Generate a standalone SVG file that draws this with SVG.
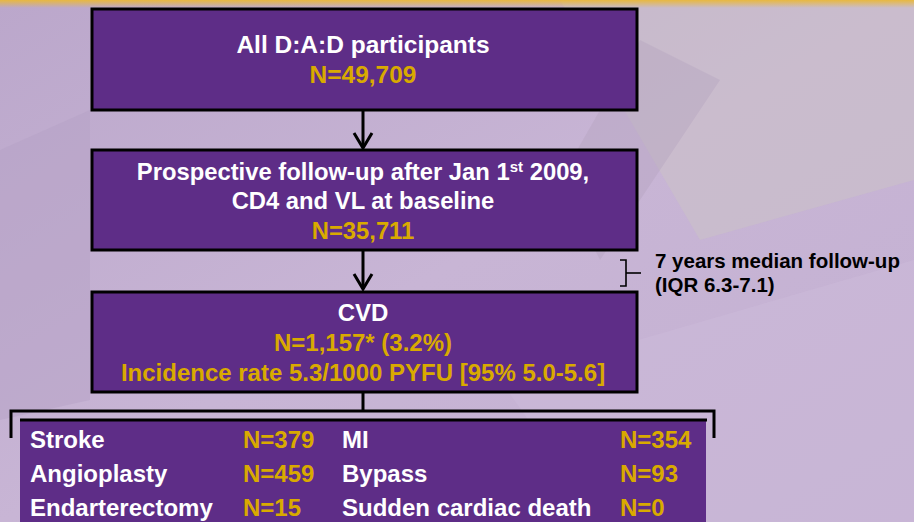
<svg xmlns="http://www.w3.org/2000/svg" width="914" height="522" viewBox="0 0 914 522">
<style>
.box{fill:#5e2d87;stroke:#000;stroke-width:3}
.w{fill:#fff;font-family:"Liberation Sans",Arial,sans-serif;font-weight:bold}
.g{fill:#d9aa00;font-family:"Liberation Sans",Arial,sans-serif;font-weight:bold}
.k{fill:#000;font-family:"Liberation Sans",Arial,sans-serif;font-weight:bold;font-size:20.5px}
.c{text-anchor:middle}
.ln{stroke:#000;stroke-width:3;fill:none}
.br{stroke:#000;stroke-width:1.6;fill:none}
</style>
<defs>
<linearGradient id="bg" x1="0" y1="0" x2="1" y2="1">
<stop offset="0" stop-color="#bba7cb"/>
<stop offset="0.5" stop-color="#c8b5d5"/>
<stop offset="1" stop-color="#c3b0d2"/>
</linearGradient>
<linearGradient id="top" x1="0" y1="0" x2="0" y2="1">
<stop offset="0" stop-color="#e8b840"/>
<stop offset="1" stop-color="#e8b840" stop-opacity="0"/>
</linearGradient>
</defs>
<g id="background">
<rect width="914" height="522" fill="url(#bg)"/>
<polygon points="560,0 914,0 914,180 700,240" fill="#cbc3c6" opacity="0.5"/>
<polygon points="640,40 720,80 600,260 560,180" fill="#b3a3bd" opacity="0.4"/>
<polygon points="500,380 914,260 914,522 600,522" fill="#cbb9d8" opacity="0.6"/>
<polygon points="0,150 90,110 90,400 0,420" fill="#b6a2c6" opacity="0.5"/>
<rect width="914" height="8" fill="url(#top)"/>
</g>
<g id="connectors">
<line class="ln" x1="363" y1="110" x2="363" y2="147"/>
<polyline class="ln" points="354,133 363,148 372,133"/>
<line class="ln" x1="363" y1="251" x2="363" y2="289"/>
<polyline class="ln" points="354,274 363,289 372,274"/>
<line class="ln" x1="363" y1="392" x2="363" y2="411"/>
<polyline class="ln" points="11,438 11,411 714,411 714,438"/>
<polyline class="br" points="620,260 626,260 626,286 620,286"/>
<line class="br" x1="626" y1="273" x2="641" y2="273"/>
</g>
<g id="node-all">
<rect class="box" x="92" y="9" width="545" height="101"/>
<text class="w c" x="363" y="53" font-size="24.5">All D:A:D participants</text>
<text class="g c" x="363" y="83" font-size="24.5">N=49,709</text>
</g>
<g id="node-prospective">
<rect class="box" x="92" y="150" width="545" height="100"/>
<text class="w c" x="363" y="180" font-size="23.8">Prospective follow-up after Jan 1<tspan font-size="15" dy="-8">st</tspan><tspan dy="8"> 2009,</tspan></text>
<text class="w c" x="363" y="209" font-size="23.8">CD4 and VL at baseline</text>
<text class="g c" x="363" y="239" font-size="23.8">N=35,711</text>
</g>
<g id="node-followup">
<text class="k" x="655" y="268">7 years median follow-up</text>
<text class="k" x="655" y="292">(IQR 6.3-7.1)</text>
</g>
<g id="node-cvd">
<rect class="box" x="92" y="292" width="545" height="100"/>
<text class="w c" x="363" y="321" font-size="24">CVD</text>
<text class="g c" x="363" y="351" font-size="24">N=1,157* (3.2%)</text>
<text class="g c" x="363" y="381" font-size="24">Incidence rate 5.3/1000 PYFU [95% 5.0-5.6]</text>
</g>
<g id="node-outcomes">
<rect x="20" y="420" width="686" height="110" fill="#5e2d87"/>
<line class="ln" x1="20" y1="420" x2="707" y2="420"/>
<text class="w" x="30" y="448" font-size="24">Stroke</text>
<text class="g" x="243" y="448" font-size="24">N=379</text>
<text class="w" x="342" y="448" font-size="24">MI</text>
<text class="g" x="620" y="448" font-size="24">N=354</text>
<text class="w" x="30" y="482" font-size="24">Angioplasty</text>
<text class="g" x="243" y="482" font-size="24">N=459</text>
<text class="w" x="342" y="482" font-size="24">Bypass</text>
<text class="g" x="620" y="482" font-size="24">N=93</text>
<text class="w" x="30" y="516" font-size="24">Endarterectomy</text>
<text class="g" x="243" y="516" font-size="24">N=15</text>
<text class="w" x="342" y="516" font-size="24">Sudden cardiac death</text>
<text class="g" x="620" y="516" font-size="24">N=0</text>
</g>
</svg>
